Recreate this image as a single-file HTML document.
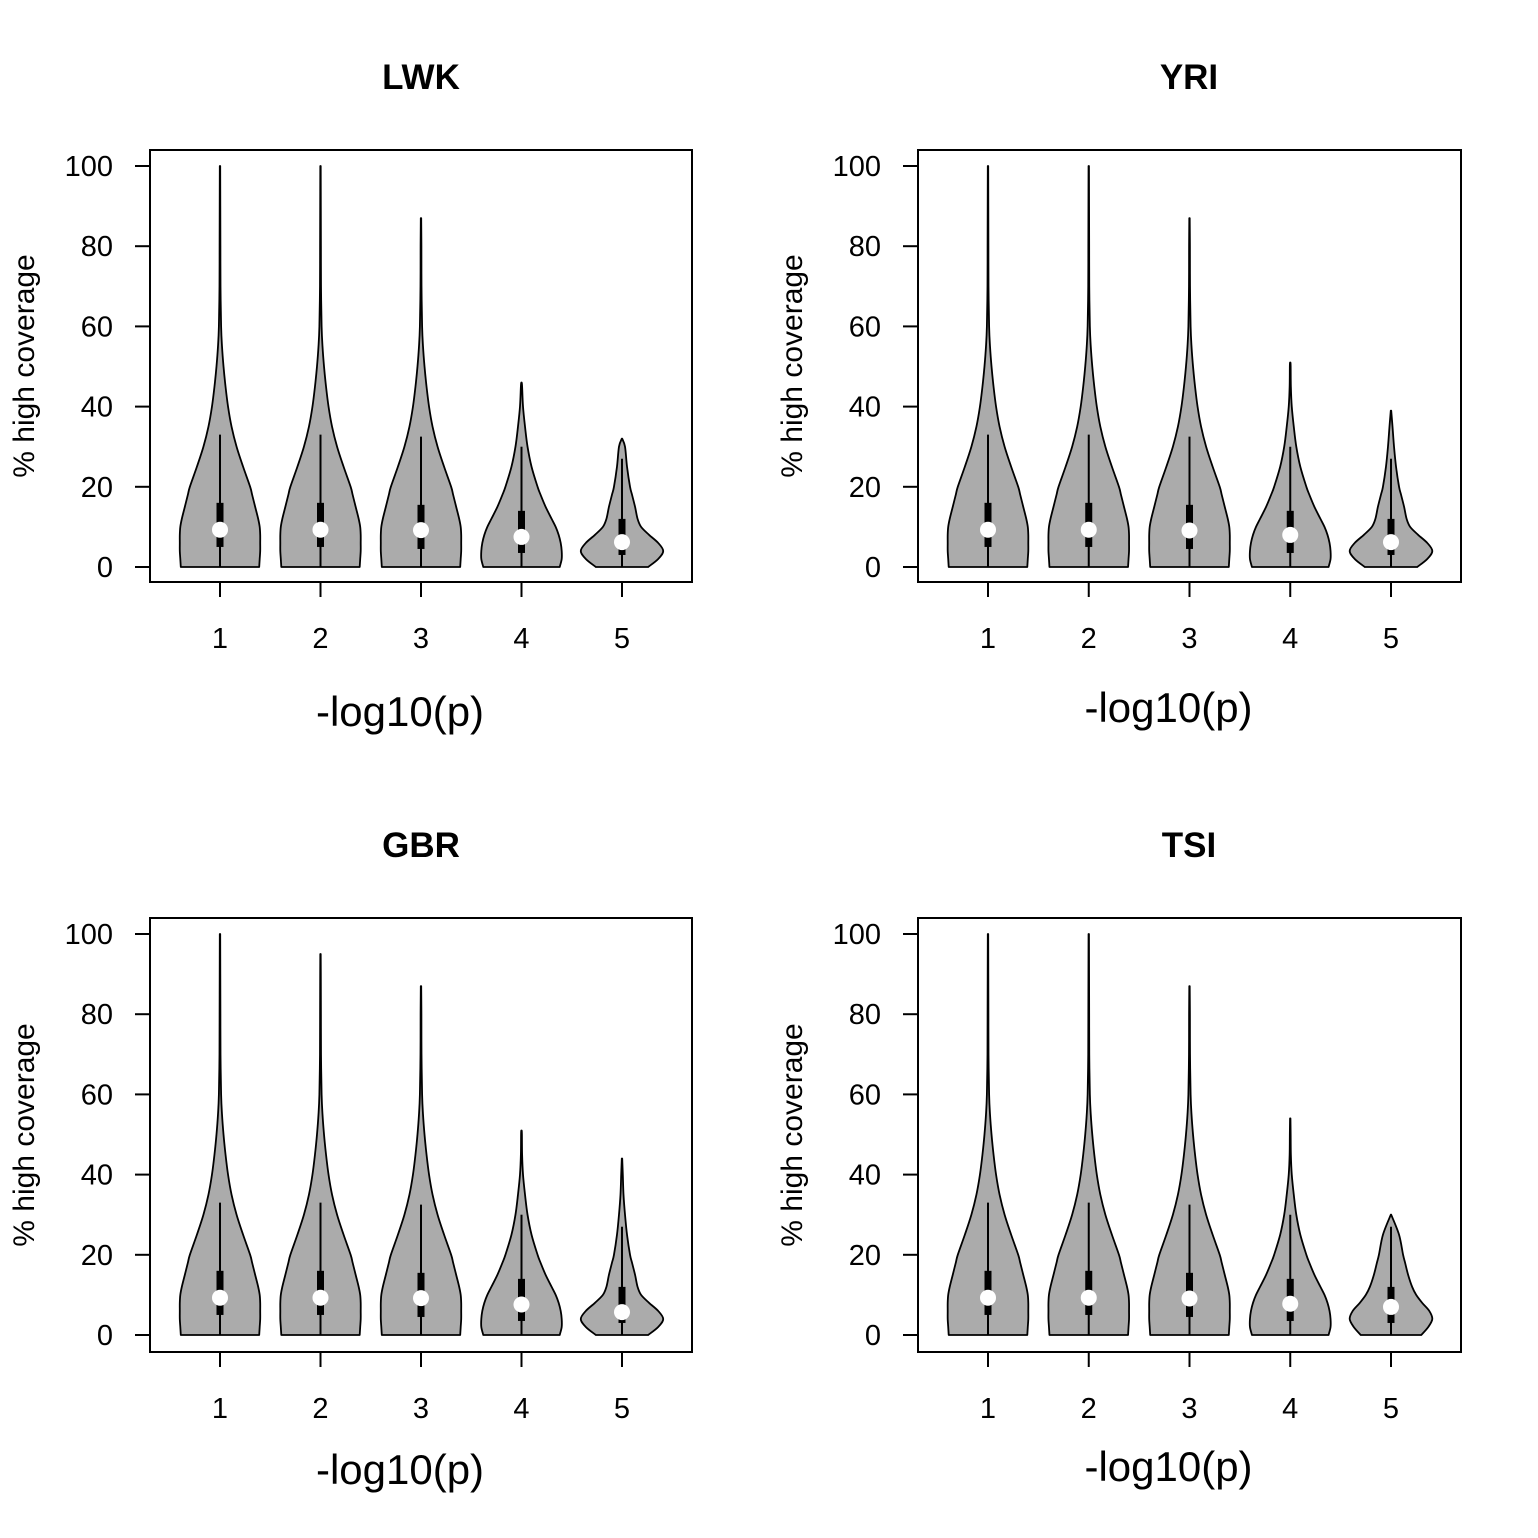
<!DOCTYPE html>
<html><head><meta charset="utf-8"><style>
body{margin:0;background:#fff}
svg{display:block;font-family:"Liberation Sans",sans-serif}
</style></head><body>
<svg id="c" width="1538" height="1538" viewBox="0 0 1538 1538"></svg>
<script>
const panelNames = ["LWK","YRI","GBR","TSI"];
const categories = [1,2,3,4,5];
const yTicks = [0,20,40,60,80,100];
const levels = [0,2,4,6,8,10,12,15,18,20,25,30,35,40,45,50,55,60,70,80,90,100];
// half-width density profiles (fraction of one x unit) at each level
const shapeA = [0.39,0.395,0.40,0.40,0.40,0.395,0.38,0.35,0.32,0.30,0.23,0.165,0.115,0.08,0.055,0.035,0.02,0.011,0.005,0.004,0.003,0.003];
const shapeB = [0.38,0.40,0.40,0.39,0.37,0.34,0.30,0.24,0.19,0.16,0.10,0.06,0.035,0.015,0.006,0.004,0.003,0.003,0.003,0.003,0.003,0.003];
const shapeC = [0.26,0.36,0.41,0.36,0.27,0.19,0.155,0.13,0.10,0.08,0.05,0.03,0.015,0.008,0.005,0.004,0.003,0.003,0.003,0.003,0.003,0.003];
const shapeD = [0.30,0.37,0.41,0.38,0.31,0.25,0.21,0.17,0.14,0.12,0.08,0.04,0.01,0.005,0.004,0.003,0.003,0.003,0.003,0.003,0.003,0.003];
const maxLWK = [100,100,87,46,32];
const maxYRI = [100,100,87,51,39];
const maxGBR = [100,95,87,51,44];
const maxTSI = [100,100,87,54,30];
const whiskerHi = [33,33,32.5,30,27];
const q1 = [5,5,4.5,3.5,3];
const q3 = [16,16,15.5,14,12];
const medLWK = [9.3,9.3,9.2,7.5,6.2];
const medYRI = [9.3,9.3,9.1,8,6.2];
const medGBR = [9.3,9.3,9.2,7.6,5.7];
const medTSI = [9.3,9.3,9.1,7.8,7];
const panelMax = [maxLWK,maxYRI,maxGBR,maxTSI];
const panelMed = [medLWK,medYRI,medGBR,medTSI];
const shapesLWK=[shapeA,shapeA,shapeA,shapeB,shapeC];
const shapesTSI=[shapeA,shapeA,shapeA,shapeB,shapeD];
const panelShapes=[shapesLWK,shapesLWK,shapesLWK,shapesTSI];

const svg=document.getElementById('c');
const NS='http://www.w3.org/2000/svg';
function mk(t,a,p){const e=document.createElementNS(NS,t);for(const k in a)e.setAttribute(k,a[k]);(p||svg).appendChild(e);return e;}
function smooth(P){ // catmull-rom through points, returns segment commands (no initial M)
  let d='';
  for(let i=0;i<P.length-1;i++){
    const p0=P[Math.max(0,i-1)],p1=P[i],p2=P[i+1],p3=P[Math.min(P.length-1,i+2)];
    const c1=[p1[0]+(p2[0]-p0[0])/6,p1[1]+(p2[1]-p0[1])/6];
    const c2=[p2[0]-(p3[0]-p1[0])/6,p2[1]-(p3[1]-p1[1])/6];
    d+=` C${c1[0]},${c1[1]} ${c2[0]},${c2[1]} ${p2[0]},${p2[1]}`;
  }
  return d;
}
const layouts=[{x0:150,x1:692,y0:150,y1:582,xl:712},{x0:918,x1:1461,y0:150,y1:582,xl:708},{x0:150,x1:692,y0:918,y1:1352,xl:1470},{x0:918,x1:1461,y0:918,y1:1352,xl:1467}];
layouts.forEach((L,pi)=>{
  const g=mk('g',{});
  
  
  const Y=v=>(L.y0+417)-(401)*(v/100);
  const unit=(L.x1-L.x0-140)/4;
  const X=c=>L.x0+70+(c-1)*unit;
  const box=mk('rect',{x:L.x0,y:L.y0,width:L.x1-L.x0,height:L.y1-L.y0,fill:'none',stroke:'#000','stroke-width':2},g);
  
  const t=mk('text',{x:L.x0+271,y:L.y0-61,'text-anchor':'middle','font-size':35,'font-weight':'bold'},g);
  t.textContent=panelNames[pi];
  yTicks.forEach(v=>{
    mk('line',{x1:L.x0-15,x2:L.x0,y1:Y(v),y2:Y(v),stroke:'#000','stroke-width':2},g);
    const tl=mk('text',{x:L.x0-37,y:Y(v)+10,'text-anchor':'end','font-size':29},g);
    tl.textContent=v;
  });
  const yl=mk('text',{transform:`translate(${L.x0-116},${(L.y0+L.y1)/2}) rotate(-90)`,'text-anchor':'middle','font-size':30},g);
  yl.textContent='% high coverage';
  const xl=mk('text',{x:(L.x0+L.x1)/2-21,y:L.xl+14,'text-anchor':'middle','font-size':42},g);
  xl.textContent='-log10(p)';
  categories.forEach((c,i)=>{
    const cx=X(c);
    mk('line',{x1:cx,x2:cx,y1:L.y1,y2:L.y1+15,stroke:'#000','stroke-width':2},g);
    const xt=mk('text',{x:cx,y:L.y1+66,'text-anchor':'middle','font-size':29},g);
    xt.textContent=c;
    const mx=panelMax[pi][i], sh=panelShapes[pi][i];
    const pts=[];
    for(let k=0;k<levels.length;k++){ if(levels[k]>=mx)break; pts.push([levels[k],sh[k]]); }
    pts.push([mx,0.002]);
    const R=pts.map(p=>[cx+p[1]*unit,Y(p[0])]);
    const Lp=pts.slice().reverse().map(p=>[cx-p[1]*unit,Y(p[0])]);
    let d='M'+Lp[Lp.length-1][0]+','+Lp[Lp.length-1][1]+' L'+R[0][0]+','+R[0][1]+smooth(R)+' L'+Lp[0][0]+','+Lp[0][1]+smooth(Lp)+'Z';
    const v=mk('path',{d:d,fill:'#ababab',stroke:'#000','stroke-width':1.8,'stroke-linejoin':'round'},g);
    
    const w=mk('line',{x1:cx,x2:cx,y1:Y(0),y2:Y(whiskerHi[i]),stroke:'#000','stroke-width':2},g);
    
    const b=mk('rect',{x:cx-3.5,y:Y(q3[i]),width:7,height:Y(q1[i])-Y(q3[i]),fill:'#000'},g);
    
    const m=mk('circle',{cx:cx,cy:Y(panelMed[pi][i]),r:8,fill:'#fff'},g);
    
  });
});
</script>
</body></html>
